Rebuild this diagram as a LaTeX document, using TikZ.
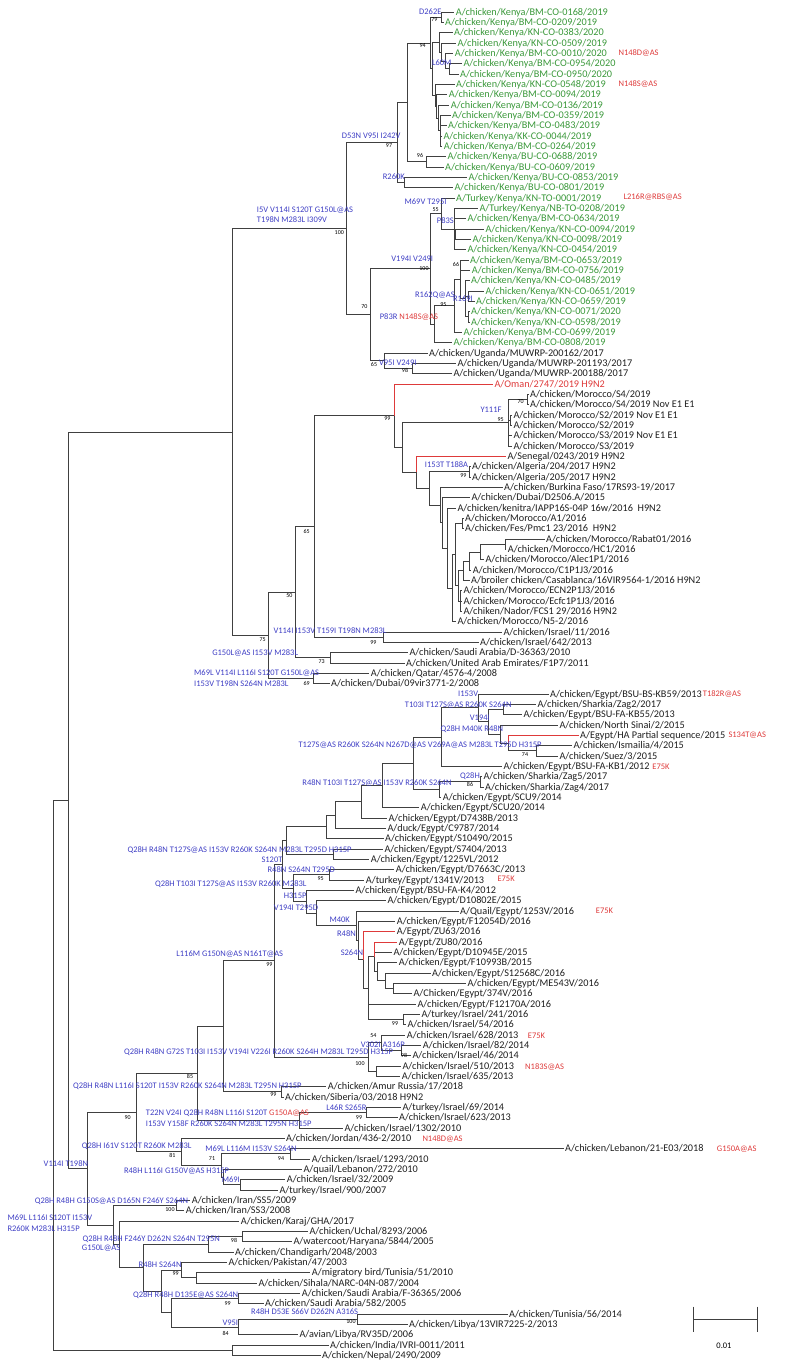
\documentclass[tikz,border=0pt]{standalone}
\usepackage{fontspec}
\setmainfont{Carlito}
\definecolor{kenyagreen}{RGB}{58,152,58}
\definecolor{subblue}{RGB}{62,62,196}
\definecolor{flagred}{RGB}{222,58,58}
\definecolor{twiggray}{RGB}{64,64,64}
% leaf row -> pixel row
\newcommand{\ly}[1]{{12+(#1-1)*10.3333}}
\tikzset{
  strain/.style={anchor=west, inner xsep=1.5pt, inner ysep=0pt, text height=6.6pt, text depth=0pt,
    font=\fontsize{10.25}{12}\selectfont, text=black!88},
  kenyan/.style={strain, text=kenyagreen},
  subst/.style={anchor=east, inner sep=0pt, text height=5.5pt, text depth=0pt,
    font=\fontsize{8.5}{10}\selectfont, text=subblue},
  substl/.style={subst, anchor=west},
  boot/.style={inner sep=0pt, text height=3.8pt, text depth=0pt, font=\fontsize{6}{7}\selectfont},
  flag/.style={subst, anchor=west, text=flagred},
  twig/.style={draw=twiggray, line width=0.8pt},
  redtwig/.style={draw=flagred, line width=0.8pt},
}
\begin{document}
\begin{tikzpicture}[x=1pt,y=-1pt]
\useasboundingbox (0,0) rectangle (787,1367);

% branch points (x, leaf row)
\foreach \n/\x/\i in {a/441.7/1.5, k11/449.3/6.5, k10/445/5.75, k9/441.7/4.875, k7/439.3/3.9375,
    k14/440.7/12.5, k13/438.3/11.25, k12/436.7/10.125, k8/435/9.0625, k6/432.5/6.5, k4/430/4,
    k5/426.7/15.5, k2/407.3/9.75, k3/404.5/17.5, k1/397.3/13.625, k22/455.7/22.5, k21/454/22,
    k20/441.7/20.5, k27/468/28.5, k28/468/30.5, k26/465/28.75, k24/460.7/26.875, k23/454/29.4375,
    k19/434.3/31.219, k16/430/25.859, k18/412.3/35.5, k17/384.3/34.75, k15/370/30.305, k0/346.7/21.965,
    o5/527.7/38.5, o7/510/40.5, o3/508.3/40.75, o9/469.3/45.5, r1/505/52.5, r2/480/53.25,
    r3/469.3/54.125, r4/463.3/55.0625, o15/462.3/50.5, o17/460.7/58, o16/458/56.53, o14/455/53.52,
    o13/452.3/56.76, o12/447.3/52.88, o11/442.7/50.44, o10/440/48.72, o8/429.3/47.11, o4/416.7/45.55,
    o2/402.3/43.15, o1/394/40.08, isr/383.3/61.5, q65/314/50.79, sa/330/63.5, p3/295/57.15,
    p4/313.3/65.5, p2/268.3/61.32, p1/232/41.64,
    e3/503.3/68.5, e7/536.7/72.5, e6/508.3/71.75, e5/500/70.875, e4/488/69.69, e2/478.3/68.34,
    e1/441.7/71.17, z/480/75.5, z2/439.3/76.25, e1p/413.3/73.71, e0/382.7/75.86, e8/361.7/77.43,
    e9/335/78.71, e10/326/79.86, e12/333.3/82.5, e11/286/81.18, e14/329.3/84.5, e21/393.3/95.5,
    e22/385/94.75, e26/377.7/93.875, e20/374.3/92.44, e23/403.3/98.5, e25/368/95.47, e19/363.3/92.73,
    e18/358/90.87, e17/356/89.43, e16/316.7/88.22, e27/306.7/87.11, e15/293.3/85.8, e13/282.7/83.49,
    i3/401.7/101.5, i2/381.7/100.75, i4/376/103.5, i1/368.3/102.125, e30/274.3/92.81, ru/281/105.5,
    e31/223.3/99.15, i7/366.7/107.5, i6/299.3/108.25, e32/197.7/103.7, l1/290/111.5, isr2/240.7/114.5,
    e37/223/113.75, e36/221/112.625, e35/181.7/111.31, e34/136.7/107.5,
    ir/176.7/116.5, f4/242.7/119.5, uc/208.3/120.25, f6/196/123.5, pk/181.7/122.75, sau/238.3/125.5,
    tn/357.3/127.5, v95/238.3/128.25, f7/171.7/126.875, f5/161.7/124.81, f3/143.3/122.53,
    f2/119.3/120.27, f1/113.3/118.38, c/87.7/112.94, b/68/77.29, ni/232/130.5, root/53/103.9}
  \coordinate (\n) at (\x,\ly{\i});

% Kenya
\node[kenyan] (s1) at (454.2,\ly{1}) {A/chicken/Kenya/BM-CO-0168/2019};
\node[kenyan] (s2) at (443.5,\ly{2}) {A/chicken/Kenya/BM-CO-0209/2019};
\node[kenyan] (s3) at (452.5,\ly{3}) {A/chicken/Kenya/KN-CO-0383/2020};
\node[kenyan] (s4) at (455.8,\ly{4}) {A/chicken/Kenya/KN-CO-0509/2019};
\node[kenyan] (s5) at (453.2,\ly{5}) {A/chicken/Kenya/BM-CO-0010/2020};
\node[kenyan] (s6) at (461.8,\ly{6}) {A/chicken/Kenya/BM-CO-0954/2020};
\node[kenyan] (s7) at (458.5,\ly{7}) {A/chicken/Kenya/BM-CO-0950/2020};
\node[kenyan] (s8) at (454.5,\ly{8}) {A/chicken/Kenya/KN-CO-0548/2019};
\node[kenyan] (s9) at (447.2,\ly{9}) {A/chicken/Kenya/BM-CO-0094/2019};
\node[kenyan] (s10) at (449.2,\ly{10}) {A/chicken/Kenya/BM-CO-0136/2019};
\node[kenyan] (s11) at (450.5,\ly{11}) {A/chicken/Kenya/BM-CO-0359/2019};
\node[kenyan] (s12) at (446.5,\ly{12}) {A/chicken/Kenya/BM-CO-0483/2019};
\node[kenyan] (s13) at (441.8,\ly{13}) {A/chicken/Kenya/KK-CO-0044/2019};
\node[kenyan] (s14) at (442.2,\ly{14}) {A/chicken/Kenya/BM-CO-0264/2019};
\node[kenyan] (s15) at (445.8,\ly{15}) {A/chicken/Kenya/BU-CO-0688/2019};
\node[kenyan] (s16) at (443.5,\ly{16}) {A/chicken/Kenya/BU-CO-0609/2019};
\node[kenyan] (s17) at (466.8,\ly{17}) {A/chicken/Kenya/BU-CO-0853/2019};
\node[kenyan] (s18) at (452.8,\ly{18}) {A/chicken/Kenya/BU-CO-0801/2019};
\node[kenyan] (s19) at (454.5,\ly{19}) {A/Turkey/Kenya/KN-TO-0001/2019};
\node[kenyan] (s20) at (477.8,\ly{20}) {A/Turkey/Kenya/NB-TO-0208/2019};
\node[kenyan] (s21) at (465.8,\ly{21}) {A/chicken/Kenya/BM-CO-0634/2019};
\node[kenyan] (s22) at (483.8,\ly{22}) {A/chicken/Kenya/KN-CO-0094/2019};
\node[kenyan] (s23) at (470.8,\ly{23}) {A/chicken/Kenya/KN-CO-0098/2019};
\node[kenyan] (s24) at (465.8,\ly{24}) {A/chicken/Kenya/KN-CO-0454/2019};
\node[kenyan] (s25) at (468.5,\ly{25}) {A/chicken/Kenya/BM-CO-0653/2019};
\node[kenyan] (s26) at (470.2,\ly{26}) {A/chicken/Kenya/BM-CO-0756/2019};
\node[kenyan] (s27) at (469.5,\ly{27}) {A/chicken/Kenya/KN-CO-0485/2019};
\node[kenyan] (s28) at (483.8,\ly{28}) {A/chicken/Kenya/KN-CO-0651/2019};
\node[kenyan] (s29) at (474.5,\ly{29}) {A/chicken/Kenya/KN-CO-0659/2019};
\node[kenyan] (s30) at (469.5,\ly{30}) {A/chicken/Kenya/KN-CO-0071/2020};
\node[kenyan] (s31) at (469.5,\ly{31}) {A/chicken/Kenya/KN-CO-0598/2019};
\node[kenyan] (s32) at (461.8,\ly{32}) {A/chicken/Kenya/BM-CO-0699/2019};
\node[kenyan] (s33) at (451.8,\ly{33}) {A/chicken/Kenya/BM-CO-0808/2019};
% Uganda to Dubai
\node[strain] (s34) at (427.5,\ly{34}) {A/chicken/Uganda/MUWRP-200162/2017};
\node[strain] (s35) at (455.8,\ly{35}) {A/chicken/Uganda/MUWRP-201193/2017};
\node[strain] (s36) at (451.8,\ly{36}) {A/chicken/Uganda/MUWRP-200188/2017};
\node[strain, text=flagred] (s37) at (492.8,\ly{37}) {A/Oman/2747/2019 H9N2};
\node[strain] (s38) at (528.5,\ly{38}) {A/chicken/Morocco/S4/2019};
\node[strain] (s39) at (528.5,\ly{39}) {A/chicken/Morocco/S4/2019 Nov E1 E1};
\node[strain] (s40) at (511.8,\ly{40}) {A/chicken/Morocco/S2/2019 Nov E1 E1};
\node[strain] (s41) at (511.8,\ly{41}) {A/chicken/Morocco/S2/2019};
\node[strain] (s42) at (511.8,\ly{42}) {A/chicken/Morocco/S3/2019 Nov E1 E1};
\node[strain] (s43) at (511.8,\ly{43}) {A/chicken/Morocco/S3/2019};
\node[strain] (s44) at (505.8,\ly{44}) {A/Senegal/0243/2019 H9N2};
\node[strain] (s45) at (470.5,\ly{45}) {A/chicken/Algeria/204/2017 H9N2};
\node[strain] (s46) at (470.5,\ly{46}) {A/chicken/Algeria/205/2017 H9N2};
\node[strain] (s47) at (502.5,\ly{47}) {A/chicken/Burkina Faso/17RS93-19/2017};
\node[strain] (s48) at (469.8,\ly{48}) {A/chicken/Dubai/D2506.A/2015};
\node[strain] (s49) at (455.8,\ly{49}) {A/chicken/kenitra/IAPP16S-04P 16w/2016 \ H9N2};
\node[strain] (s50) at (463.5,\ly{50}) {A/chicken/Morocco/A1/2016};
\node[strain] (s51) at (463.5,\ly{51}) {A/chicken/Fes/Pmc1 23/2016 \ H9N2};
\node[strain] (s52) at (544.5,\ly{52}) {A/chicken/Morocco/Rabat01/2016};
\node[strain] (s53) at (506.2,\ly{53}) {A/chicken/Morocco/HC1/2016};
\node[strain] (s54) at (483.8,\ly{54}) {A/chicken/Morocco/Alec1P1/2016};
\node[strain] (s55) at (471.2,\ly{55}) {A/chicken/Morocco/C1P1J3/2016};
\node[strain] (s56) at (469.5,\ly{56}) {A/broiler chicken/Casablanca/16VIR9564-1/2016 H9N2};
\node[strain] (s57) at (461.8,\ly{57}) {A/chicken/Morocco/ECN2P1J3/2016};
\node[strain] (s58) at (461.8,\ly{58}) {A/chicken/Morocco/Ecfc1P1J3/2016};
\node[strain] (s59) at (461.8,\ly{59}) {A/chiken/Nador/FCS1 29/2016 H9N2};
\node[strain] (s60) at (455.8,\ly{60}) {A/chicken/Morocco/N5-2/2016};
\node[strain] (s61) at (501.8,\ly{61}) {A/chicken/Israel/11/2016};
\node[strain] (s62) at (478.5,\ly{62}) {A/chicken/Israel/642/2013};
\node[strain] (s63) at (407.8,\ly{63}) {A/chicken/Saudi Arabia/D-36363/2010};
\node[strain] (s64) at (404.5,\ly{64}) {A/chicken/United Arab Emirates/F1P7/2011};
\node[strain] (s65) at (369.2,\ly{65}) {A/chicken/Qatar/4576-4/2008};
\node[strain] (s66) at (329.5,\ly{66}) {A/chicken/Dubai/09vir3771-2/2008};
% Egypt and Israel
\node[strain] (s67) at (548.5,\ly{67}) {A/chicken/Egypt/BSU-BS-KB59/2013};
\node[strain] (s68) at (535.8,\ly{68}) {A/chicken/Sharkia/Zag2/2017};
\node[strain] (s69) at (521.8,\ly{69}) {A/chicken/Egypt/BSU-FA-KB55/2013};
\node[strain] (s70) at (557.8,\ly{70}) {A/chicken/North Sinai/2/2015};
\node[strain] (s71) at (578.5,\ly{71}) {A/Egypt/HA Partial sequence/2015};
\node[strain] (s72) at (571.8,\ly{72}) {A/chicken/Ismailia/4/2015};
\node[strain] (s73) at (557.8,\ly{73}) {A/chicken/Suez/3/2015};
\node[strain] (s74) at (501.8,\ly{74}) {A/chicken/Egypt/BSU-FA-KB1/2012};
\node[strain] (s75) at (481.8,\ly{75}) {A/chicken/Sharkia/Zag5/2017};
\node[strain] (s76) at (483.5,\ly{76}) {A/chicken/Sharkia/Zag4/2017};
\node[strain] (s77) at (441.2,\ly{77}) {A/chicken/Egypt/SCU9/2014};
\node[strain] (s78) at (419.2,\ly{78}) {A/chicken/Egypt/SCU20/2014};
\node[strain] (s79) at (386.8,\ly{79}) {A/chicken/Egypt/D7438B/2013};
\node[strain] (s80) at (385.8,\ly{80}) {A/duck/Egypt/C9787/2014};
\node[strain] (s81) at (383.5,\ly{81}) {A/chicken/Egypt/S10490/2015};
\node[strain] (s82) at (382.8,\ly{82}) {A/chicken/Egypt/S7404/2013};
\node[strain] (s83) at (369.2,\ly{83}) {A/chicken/Egypt/1225VL/2012};
\node[strain] (s84) at (394.2,\ly{84}) {A/chicken/Egypt/D7663C/2013};
\node[strain] (s85) at (364.2,\ly{85}) {A/turkey/Egypt/1341V/2013};
\node[strain] (s86) at (353.8,\ly{86}) {A/chicken/Egypt/BSU-FA-K4/2012};
\node[strain] (s87) at (385.8,\ly{87}) {A/chicken/Egypt/D10802E/2015};
\node[strain] (s88) at (458.5,\ly{88}) {A/Quail/Egypt/1253V/2016};
\node[strain] (s89) at (395.2,\ly{89}) {A/chicken/Egypt/F12054D/2016};
\node[strain] (s90) at (395.2,\ly{90}) {A/Egypt/ZU63/2016};
\node[strain] (s91) at (397.2,\ly{91}) {A/Egypt/ZU80/2016};
\node[strain] (s92) at (391.8,\ly{92}) {A/chicken/Egypt/D10945E/2015};
\node[strain] (s93) at (397.2,\ly{93}) {A/chicken/Egypt/F10993B/2015};
\node[strain] (s94) at (430.5,\ly{94}) {A/chicken/Egypt/S12568C/2016};
\node[strain] (s95) at (465.8,\ly{95}) {A/chicken/Egypt/ME543V/2016};
\node[strain] (s96) at (411.8,\ly{96}) {A/Chicken/Egypt/374V/2016};
\node[strain] (s97) at (415.8,\ly{97}) {A/chicken/Egypt/F12170A/2016};
\node[strain] (s98) at (419.8,\ly{98}) {A/turkey/Israel/241/2016};
\node[strain] (s99) at (405.8,\ly{99}) {A/chicken/Israel/54/2016};
\node[strain] (s100) at (405.2,\ly{100}) {A/chicken/Israel/628/2013};
\node[strain] (s101) at (421.2,\ly{101}) {A/chicken/Israel/82/2014};
\node[strain] (s102) at (410.8,\ly{102}) {A/chicken/Israel/46/2014};
\node[strain] (s103) at (400.8,\ly{103}) {A/chicken/Israel/510/2013};
\node[strain] (s104) at (400.2,\ly{104}) {A/chicken/Israel/635/2013};
\node[strain] (s105) at (326.2,\ly{105}) {A/chicken/Amur Russia/17/2018};
\node[strain] (s106) at (283.5,\ly{106}) {A/chicken/Siberia/03/2018 H9N2};
\node[strain] (s107) at (400.8,\ly{107}) {A/turkey/Israel/69/2014};
\node[strain] (s108) at (397.5,\ly{108}) {A/chicken/Israel/623/2013};
\node[strain] (s109) at (342.8,\ly{109}) {A/chicken/Israel/1302/2010};
\node[strain] (s110) at (284.5,\ly{110}) {A/chicken/Jordan/436-2/2010};
\node[strain] (s111) at (563.5,\ly{111}) {A/chicken/Lebanon/21-E03/2018};
\node[strain] (s112) at (310.2,\ly{112}) {A/chicken/Israel/1293/2010};
\node[strain] (s113) at (301.8,\ly{113}) {A/quail/Lebanon/272/2010};
\node[strain] (s114) at (285.2,\ly{114}) {A/chicken/Israel/32/2009};
\node[strain] (s115) at (277.8,\ly{115}) {A/turkey/Israel/900/2007};
% Asia and North Africa
\node[strain] (s116) at (190.2,\ly{116}) {A/chicken/Iran/SS5/2009};
\node[strain] (s117) at (184.2,\ly{117}) {A/chicken/Iran/SS3/2008};
\node[strain] (s118) at (239.2,\ly{118}) {A/chicken/Karaj/GHA/2017};
\node[strain] (s119) at (307.8,\ly{119}) {A/chicken/Uchal/8293/2006};
\node[strain] (s120) at (291.8,\ly{120}) {A/watercoot/Haryana/5844/2005};
\node[strain] (s121) at (233.5,\ly{121}) {A/chicken/Chandigarh/2048/2003};
\node[strain] (s122) at (226.8,\ly{122}) {A/chicken/Pakistan/47/2003};
\node[strain] (s123) at (310.2,\ly{123}) {A/migratory bird/Tunisia/51/2010};
\node[strain] (s124) at (256.8,\ly{124}) {A/chicken/Sihala/NARC-04N-087/2004};
\node[strain] (s125) at (300.2,\ly{125}) {A/chicken/Saudi Arabia/F-36365/2006};
\node[strain] (s126) at (263.5,\ly{126}) {A/chicken/Saudi Arabia/582/2005};
\node[strain] (s127) at (507.5,\ly{127}) {A/chicken/Tunisia/56/2014};
\node[strain] (s128) at (407.5,\ly{128}) {A/chicken/Libya/13VIR7225-2/2013};
\node[strain] (s129) at (297.8,\ly{129}) {A/avian/Libya/RV35D/2006};
\node[strain] (s130) at (328.5,\ly{130}) {A/chicken/India/IVRI-0011/2011};
\node[strain] (s131) at (320.5,\ly{131}) {A/chicken/Nepal/2490/2009};

% branches
\foreach \p/\c in {a/s1, a/s2, k11/s6, k11/s7, k10/s5, k10/k11, k9/s4, k9/k10, k7/s3, k7/k9,
    k14/s11, k14/s12, k14/s13, k14/s14, k13/s10, k13/k14, k12/s9, k12/k13, k8/s8, k8/k12,
    k6/k7, k6/k8, k4/a, k4/k6, k5/s15, k5/s16, k2/k4, k2/k5, k3/s17, k3/s18, k1/k2, k1/k3,
    k22/s22, k22/s23, k21/s20, k21/s21, k21/k22, k21/s24, k20/s19, k20/k21,
    k27/s28, k27/s29, k28/s30, k28/s31, k26/s27, k26/k27, k26/k28, k24/s25, k24/s26, k24/k26,
    k23/k24, k23/s32, k19/k23, k19/s33, k16/k20, k16/k19, k18/s35, k18/s36, k17/s34, k17/k18,
    k15/k16, k15/k17, k0/k1, k0/k15,
    o5/s38, o5/s39, o7/s40, o7/s41, o3/o5, o3/o7, o3/s42, o3/s43, o9/s45, o9/s46,
    r1/s52, r1/s53, r2/r1, r2/s54, r3/r2, r3/s55, r4/r3, r4/s56, o15/s50, o15/s51,
    o17/s57, o17/s58, o17/s59, o16/r4, o16/o17, o14/o15, o14/o16, o13/o14, o13/s60,
    o12/s49, o12/o13, o11/s48, o11/o12, o10/s47, o10/o11, o8/o9, o8/o10, o4/o8,
    o2/o3, o2/o4, o1/o2, isr/s61, isr/s62, q65/o1, q65/isr, sa/s63, sa/s64, p3/q65, p3/sa,
    p4/s65, p4/s66, p2/p3, p2/p4, p1/k0, p1/p2,
    e3/s68, e3/s69, e7/s72, e7/s73, e6/e7, e5/s70, e5/e6, e4/e3, e4/e5, e2/s67, e2/e4,
    e1/e2, e1/s74, z/s75, z/s76, z2/z, z2/s77, e1p/e1, e1p/z2, e0/e1p, e0/s78, e8/e0, e8/s79,
    e9/e8, e9/s80, e10/e9, e10/s81, e12/s82, e12/s83, e11/e10, e11/e12, e14/s84, e14/s85,
    e21/s95, e21/s96, e22/s94, e22/e21, e26/s93, e26/e22, e20/s92, e20/e26, e23/s98, e23/s99,
    e25/e20, e25/s97, e25/e23, e19/e25, e18/s89, e18/e19, e17/s88, e17/e18, e16/s87, e16/e17,
    e27/s86, e27/e16, e15/e14, e15/e27, e13/e11, e13/e15, i3/s101, i3/s102, i2/s100, i2/i3,
    i4/s103, i4/s104, i1/i2, i1/i4, e30/e13, e30/i1, ru/s105, ru/s106, e31/e30, e31/ru,
    i7/s107, i7/s108, i6/i7, i6/s109, e32/e31, e32/i6, l1/s111, l1/s112, isr2/s114, isr2/s115,
    e37/s113, e37/isr2, e36/l1, e36/e37, e35/s110, e35/e36, e34/e32, e34/e35,
    ir/s116, ir/s117, f4/s119, f4/s120, uc/f4, uc/s121, f6/s123, f6/s124, pk/s122, pk/f6,
    sau/s125, sau/s126, tn/s127, tn/s128, v95/tn, v95/s129, f7/sau, f7/v95, f5/pk, f5/f7,
    f3/uc, f3/f5, f2/s118, f2/f3, f1/ir, f1/f2, c/e34, c/f1, b/p1, b/c, ni/s130, ni/s131,
    root/b, root/ni}
  \draw[twig] (\p) |- (\c);
\foreach \p/\c in {o1/s37, o4/s44, e6/s71, e19/s90, e20/s91}
  \draw[redtwig] (\p) |- (\c);

% substitutions on branches
\node[subst] (m1) at (441.7,12) {D262E};
\node[subst] (m2) at (451.7,62.3) {L60M};
\node[subst] (m3) at (400.7,136) {D53N V95I I242V};
\node[subst] (m4) at (405,176.7) {R260K};
\node[subst] (m5) at (446.7,201.7) {M69V T295I};
\node[substl] (m6) at (256.7,209.3) {I5V V114I S120T G150L@AS};
\node[substl] (m7) at (256.7,220) {T198N M283L I309V};
\node[subst] (m8) at (454,221) {P83S};
\node[subst] (m9) at (433.3,258.3) {V194I V249I};
\node[subst] (m10) at (455,295) {R162Q@AS};
\node[subst] (m11) at (473,299) {R169I};
\node[subst] (m12) at (438.3,316.7) {P83R \textcolor{flagred}{N148S@AS}};
\node[subst] (m13) at (416.7,362.7) {V95I V249I};
\node[subst] (m14) at (501.7,410) {Y111F};
\node[subst] (m15) at (468.3,465) {I153T T188A};
\node[subst] (m16) at (386.7,631) {V114I I153V T159I T198N M283L};
\node[subst] (m17) at (298.3,653) {G150L@AS I153V M283L};
\node[substl] (m18) at (194,672.3) {M69L V114I L116I S120T G150L@AS};
\node[substl] (m19) at (194,683.3) {I153V T198N S264N M283L};
\node[subst] (m20) at (478.3,694) {I153V};
\node[subst] (m21) at (511.7,704.3) {T103I T127S@AS R260K S264N};
\node[subst] (m22) at (490,717.7) {V194I};
\node[subst] (m23) at (503.3,729) {Q28H M40K R48N};
\node[subst] (m24) at (541.7,745) {T127S@AS R260K S264N N267D@AS V269A@AS M283L T295D H315P};
\node[subst] (m25) at (480,775.7) {Q28H};
\node[subst] (m26) at (451.7,783) {R48N T103I T127S@AS I153V R260K S264N};
\node[subst] (m27) at (351.7,850) {Q28H R48N T127S@AS I153V R260K S264N M283L T295D H315P};
\node[subst] (m28) at (282.7,860) {S120T};
\node[subst] (m29) at (335,869.3) {R48N S264N T295D};
\node[subst] (m30) at (306.7,883.3) {Q28H T103I T127S@AS I153V R260K M283L};
\node[subst] (m31) at (306.7,896) {H315P};
\node[subst] (m32) at (318.3,907.3) {V194I T295D};
\node[subst] (m33) at (350,920) {M40K};
\node[subst] (m34) at (356,933.3) {R48N};
\node[subst] (m35) at (363.3,952.7) {S264N};
\node[subst] (m36) at (283.3,954) {L116M G150N@AS N161T@AS};
\node[subst] (m37) at (405,1045) {V302I A316P};
\node[subst] (m38) at (393.3,1051.5) {Q28H R48N G72S T103I I153V V194I V226I R260K S264H M283L T295D H315P};
\node[subst] (m39) at (301.7,1085.7) {Q28H R48N L116I S120T I153V R260K S264N M283L T295N H315P};
\node[substl] (m40) at (145.7,1112.3) {T22N V24I Q28H R48N L116I S120T \textcolor{flagred}{G150A@AS}};
\node[substl] (m41) at (145.7,1124) {I153V Y158F R260K S264N M283L T295N H315P};
\node[subst] (m42) at (366.7,1107.7) {L46R S265R};
\node[subst] (m43) at (191.7,1146) {Q28H I61V S120T R260K M283L};
\node[subst] (m44) at (296.7,1148.3) {M69L L116M I153V S264N};
\node[subst] (m45) at (229.3,1171) {R48H L116I G150V@AS H315P};
\node[subst] (m46) at (240,1180) {M69I};
\node[subst] (m47) at (88.3,1163.3) {V114I T198N};
\node[subst] (m48) at (188.3,1201) {Q28H R48H G150S@AS D165N F246Y S264N};
\node[substl] (m49) at (7.3,1217.7) {M69L L116I S120T I153V};
\node[substl] (m50) at (7.3,1228.7) {R260K M283L H315P};
\node[subst] (m51) at (220,1239) {Q28H R48H F246Y D262N S264N T295N};
\node[substl] (m52) at (81.7,1247.3) {G150L@AS};
\node[subst] (m53) at (181.7,1265) {R48H S264N};
\node[subst] (m54) at (238.3,1295) {Q28H R48H D135E@AS S264N};
\node[subst] (m55) at (358.3,1311.7) {R48H D53E S66V D262N A316S};
\node[subst] (m56) at (238.3,1322.7) {V95I};

% bootstrap values
\node[boot] (b1) at (434.3,20) {79};
\node[boot] (b2) at (422.7,45.7) {94};
\node[boot] (b3) at (389,145.7) {97};
\node[boot] (b4) at (420,156) {96};
\node[boot] (b5) at (435.7,210) {55};
\node[boot] (b6) at (339.3,232.3) {100};
\node[boot] (b7) at (424,269) {100};
\node[boot] (b8) at (456,265) {66};
\node[boot] (b9) at (443.3,305) {95};
\node[boot] (b10) at (364.3,306.7) {70};
\node[boot] (b11) at (374,364.3) {65};
\node[boot] (b12) at (405,371) {98};
\node[boot] (b13) at (387.3,419) {99};
\node[boot] (b14) at (520.7,401.7) {70};
\node[boot] (b15) at (500.7,420) {95};
\node[boot] (b16) at (463.3,476) {99};
\node[boot] (b17) at (306.7,531.7) {65};
\node[boot] (b18) at (289.3,595.7) {50};
\node[boot] (b19) at (373.3,642.3) {99};
\node[boot] (b20) at (321.7,661.7) {73};
\node[boot] (b21) at (262.7,640) {75};
\node[boot] (b22) at (306.7,683.3) {69};
\node[boot] (b23) at (525,755) {74};
\node[boot] (b24) at (470,785) {86};
\node[boot] (b25) at (320.7,879) {95};
\node[boot] (b26) at (269.3,965) {99};
\node[boot] (b27) at (395,1023.3) {99};
\node[boot] (b28) at (373.3,1035.7) {54};
\node[boot] (b29) at (404,1055.7) {98};
\node[boot] (b30) at (360,1063.3) {100};
\node[boot] (b31) at (190,1076.7) {85};
\node[boot] (b32) at (273.3,1095) {99};
\node[boot] (b33) at (359,1117.3) {99};
\node[boot] (b34) at (127.7,1117.7) {90};
\node[boot] (b35) at (172.3,1155.3) {81};
\node[boot] (b36) at (212,1158.3) {71};
\node[boot] (b37) at (281,1159) {94};
\node[boot] (b38) at (170,1210) {100};
\node[boot] (b39) at (234,1241) {98};
\node[boot] (b40) at (175.7,1274) {99};
\node[boot] (b41) at (227.7,1304) {99};
\node[boot] (b42) at (351,1321.7) {100};
\node[boot] (b43) at (225.7,1333.3) {84};

% red notes beside strains
\node[flag] (f1) at (618.3,52.3) {N148D@AS};
\node[flag] (f2) at (618.3,84) {N148S@AS};
\node[flag] (f3) at (623.3,196.7) {L216R@RBS@AS};
\node[flag] (f4) at (702.7,694) {T182R@AS};
\node[flag] (f5) at (728.3,735) {S134T@AS};
\node[flag] (f6) at ([xshift=1pt]s74.east) {E75K};
\node[flag] (f7) at (497.3,879) {E75K};
\node[flag] (f8) at (595.7,910.7) {E75K};
\node[flag] (f9) at (527.7,1036) {E75K};
\node[flag] (f10) at (525,1066.7) {N183S@AS};
\node[flag] (f11) at (422.3,1139) {N148D@AS};
\node[flag] (f12) at (716.7,1149) {G150A@AS};

% scale bar
\coordinate (bar0) at (693.3,1319);
\coordinate (bar1) at (757.3,1319);
\draw[twig] (bar0) -- (bar1);
\draw[twig] (693.3,1306.7) -- (693.3,1331.7);
\draw[twig] (757.3,1306.7) -- (757.3,1331.7);
\node[boot, font=\fontsize{8.5}{10}\selectfont, text height=5.5pt] (barlabel) at (724,1345.7) {0.01};
\end{tikzpicture}
\end{document}
